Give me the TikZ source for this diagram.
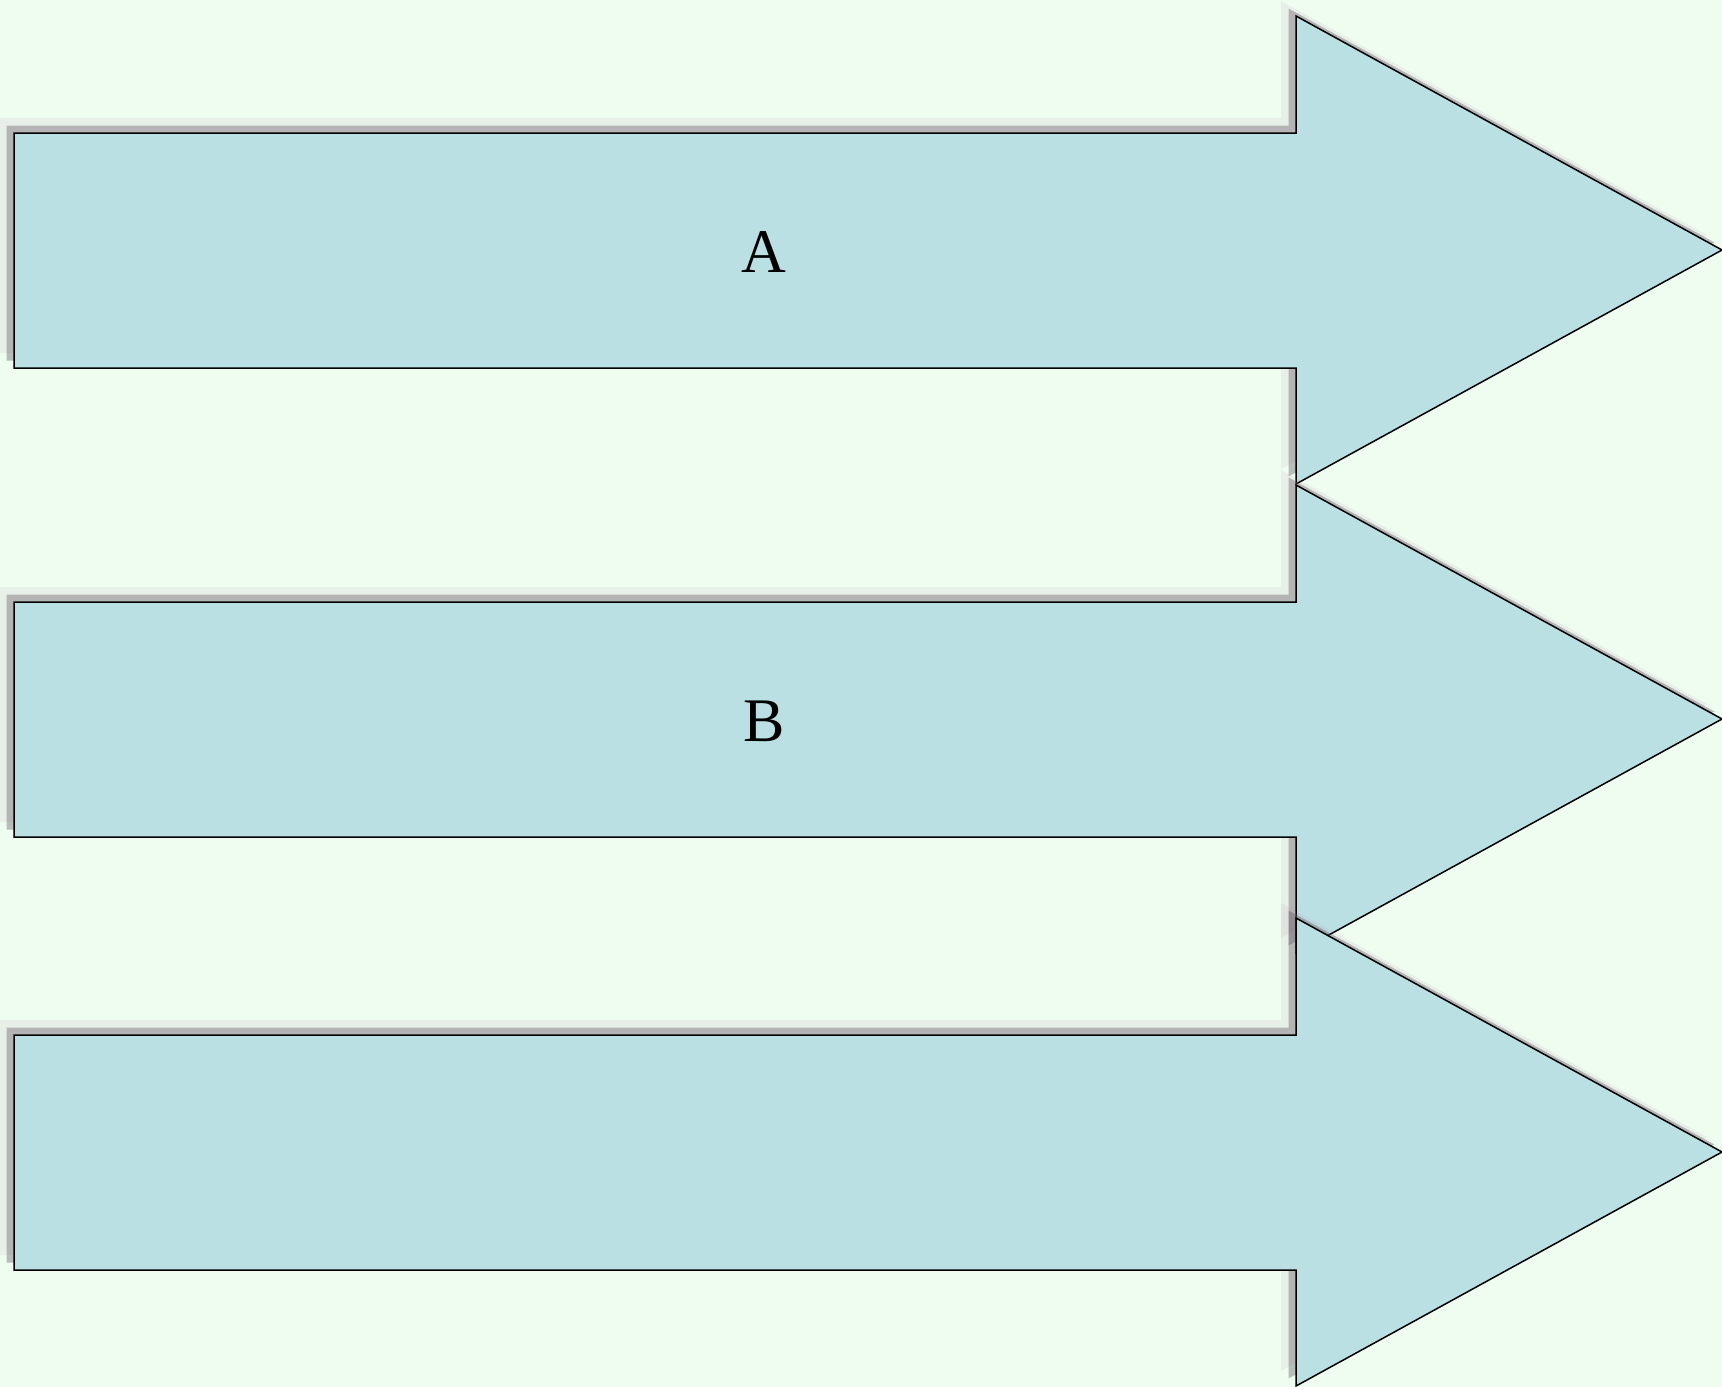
\documentclass[tikz,border=0pt]{standalone}
\usepackage{fontspec}
\setmainfont{Liberation Serif}
\definecolor{bgmint}{HTML}{EEFDF0}
\definecolor{arrowfill}{HTML}{BBE0E3}
\definecolor{shadowdark}{RGB}{96,86,94}
\definecolor{shadowlight}{RGB}{178,123,170}
\newcommand\drawbigarrow[1]{%
  \begin{scope}[shift={(0,#1)}]
    \begin{scope}[shift={(-15,-15)}]
      \fill[shadowfar] (14,0) -- (1296,0) -- (1296,-117) -- (1722,117) -- (1296,351) -- (1296,235) -- (14,235) -- cycle;
    \end{scope}
    \begin{scope}[shift={(-7.5,-7.5)}]
      \fill[shadownear] (14,0) -- (1296,0) -- (1296,-117) -- (1722,117) -- (1296,351) -- (1296,235) -- (14,235) -- cycle;
    \end{scope}
    \draw[arrowbody] (14,0) -- (1296,0) -- (1296,-117) -- (1722,117) -- (1296,351) -- (1296,235) -- (14,235) -- cycle;
  \end{scope}}
\begin{document}
\begin{tikzpicture}[x=1pt,y=-1pt,
  arrowbody/.style={fill=arrowfill, draw=black, line width=1.5pt, line join=miter},
  shadowfar/.style={fill=shadowlight, fill opacity=0.1},
  shadownear/.style={fill=shadowdark, fill opacity=0.38},
  arrowlabel/.style={font=\fontsize{62}{62}\selectfont, text=black, inner sep=0pt}]
\fill[bgmint] (0,0) rectangle (1722,1387);
\useasboundingbox (0,0) rectangle (1722,1387);
\clip (0,0) rectangle (1722,1387);
\drawbigarrow{133}
\drawbigarrow{602}
\drawbigarrow{1035}
\node[arrowlabel] (labelA) at (764,252) {A};
\node[arrowlabel] (labelB) at (764,721) {B};
\end{tikzpicture}
\end{document}
